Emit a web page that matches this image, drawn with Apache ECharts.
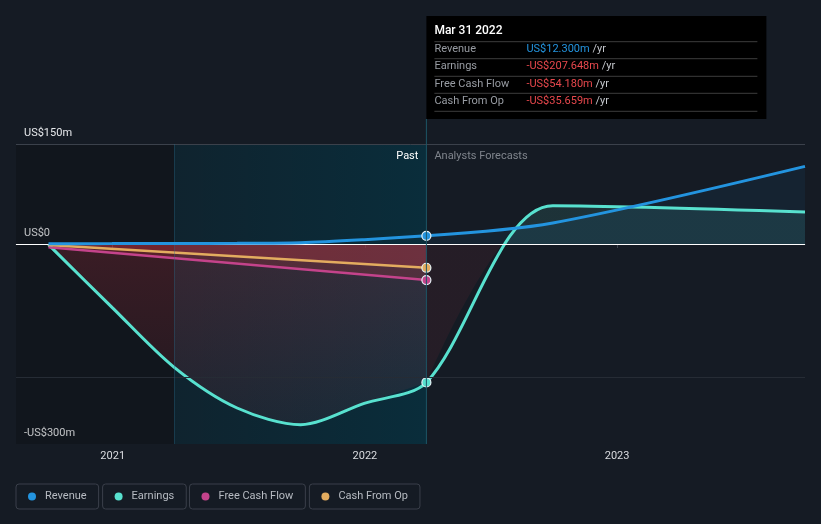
<!DOCTYPE html>
<html><head><meta charset="utf-8">
<script src="https://cdn.jsdelivr.net/npm/echarts@6/dist/echarts.min.js"></script>
<style>html,body{margin:0;padding:0;background:#151b24;} #c{width:821px;height:524px;}</style>
</head><body><div id="c"></div>
<script>
// ---- data (US$ millions) ----
const pastDates = ['2020-09-30','2020-12-31','2021-03-31','2021-06-30','2021-09-30','2021-12-31','2022-03-31'];
const revenuePast = [0.5, 0.6, 0.8, 1.0, 2.0, 6.5, 12.3];
const earningsPast = [-1, -95, -185, -246, -271, -239, -207.648];
const cashDates = ['2020-09-30','2022-03-31'];
const fcfPast = [-5, -54.18];
const cfoPast = [-1.5, -35.659];
const forecastDates = ['2022-09-30','2023-09-30'];
const revenueForecast = [31.5, 116.4];
const earningsForecast = [57.5, 48];
const yearTicks = ['2021-01-01','2022-01-01','2023-01-01'];
const yTickValues = [150, 0, -300];
const gridValues = [150, -200];
const axisStart = '2020-08-14', axisEnd = '2023-09-30';
const bandStart = '2021-03-31', today = '2022-03-31';
const tooltipTitle = 'Mar 31 2022';
const seriesNames = ['Revenue','Earnings','Free Cash Flow','Cash From Op'];

const C = {rev:'#2394df', earn:'#58e1cf', fcf:'#c4438b', cfo:'#e3ac5f'};
const FONT = 'Roboto';
const T = d => Date.parse(d);
const pair = (d, v) => d.map((x, i) => [T(x), v[i]]);
const last = a => a[a.length - 1];
const fmtM = v => (v < 0 ? '-' : '') + 'US$' + Math.abs(v).toFixed(3) + 'm';
const fmtAxis = v => (v < 0 ? '-' : '') + 'US$' + Math.abs(v) + (v === 0 ? '' : 'm');
const RED = a => 'rgba(230,55,70,' + a + ')';

// series data built from the arrays
const earnPastData = pair(pastDates, earningsPast);
const earnFcData = pair([today].concat(forecastDates), [last(earningsPast)].concat(earningsForecast));
const earnAllData = earnPastData.concat(pair(forecastDates, earningsForecast));
const revPastData = pair(pastDates, revenuePast);
const revFcData = pair([today].concat(forecastDates), [last(revenuePast)].concat(revenueForecast));
const markIdx = pastDates.length - 1;

const fcVals = [last(earningsPast)].concat(earningsForecast);
const eMax = Math.max(...fcVals), eMin = Math.min(...fcVals);
const zeroOff = eMax / (eMax - eMin);

const symAt = i => (val, p) => p.dataIndex === i ? 'circle' : 'none';

const chart = echarts.init(document.getElementById('c'), null, {renderer:'canvas'});
const baseLine = (name, color, data, extra) => Object.assign({
  name, type:'line', data, z:4, smooth:0.3,
  symbol: symAt(data.length - 1), symbolSize: 9, showSymbol:true,
  lineStyle:{color, width:3}, itemStyle:{color, borderColor:'#e8f4f8', borderWidth:1.2},
  emphasis:{disabled:true}, silent:true
}, extra);
const areaOnly = (name, color, data, areaColor, z) => ({
  name, type:'line', data, z, smooth:0.3, symbol:'none', silent:true,
  lineStyle:{width:0, color}, itemStyle:{color}, emphasis:{disabled:true},
  areaStyle:{origin:0, color:areaColor}
});

const legendBox = (name, left) => ({
  data:[name], left, top:484, orient:'horizontal', icon:'circle',
  itemWidth:8, itemHeight:8, itemGap:0, padding:[7,12,7,12],
  borderColor:'#3a3f4a', borderWidth:1, borderRadius:3, selectedMode:false,
  itemStyle:{borderWidth:0},
  textStyle:{color:'#b7bbc2', fontSize:11, fontFamily:FONT, padding:[0,0,0,4]}
});

chart.setOption({
  backgroundColor:'#151b24',
  animation:false,
  textStyle:{fontFamily:FONT},
  grid:{left:16, right:16, top:144, bottom:80},
  xAxis:{type:'value', min:T(axisStart), max:T(axisEnd),
    axisLine:{lineStyle:{color:'#3d434e', width:1}},
    axisTick:{show:true, customValues:yearTicks.map(T), length:4, lineStyle:{color:'#3d434e'}},
    axisLabel:{customValues:yearTicks.map(T), formatter:v => String(new Date(v).getUTCFullYear()),
      color:'#d9dbdf', fontSize:11, margin:7},
    splitLine:{show:false}},
  yAxis:{type:'value', min:-300, max:150,
    axisLine:{show:false}, axisTick:{show:false}, splitLine:{show:false},
    axisLabel:{customValues:yTickValues, inside:true, formatter:fmtAxis, color:'#e6e8eb',
      fontSize:11, margin:8, verticalAlign:'bottom', padding:[0,0,5,0]}},
  legend:[legendBox(seriesNames[0],16), legendBox(seriesNames[1],102.6),
          legendBox(seriesNames[2],189.5), legendBox(seriesNames[3],309.4)],
  series:[
    {type:'line', name:'bg', data:[], z:1, silent:true,
      markArea:{silent:true, data:[
        [{xAxis:T(axisStart), itemStyle:{color:'rgba(0,0,0,0.17)'}},{xAxis:T(bandStart)}],
        [{xAxis:T(bandStart), itemStyle:{color:{type:'linear',x:0,y:0,x2:1,y2:0,colorStops:[
          {offset:0,color:'rgba(0,57,74,0.28)'},{offset:1,color:'rgba(0,60,78,0.55)'}]}}},{xAxis:T(today)}]
      ]},
      markLine:{silent:true, symbol:'none', label:{show:false}, data:[
        {yAxis:gridValues[0], lineStyle:{color:'#3b414b', width:1, type:'solid'}},
        {yAxis:gridValues[1], lineStyle:{color:'#262c35', width:1, type:'solid'}},
        {xAxis:T(bandStart), lineStyle:{color:'rgba(40,110,140,0.35)', width:1, type:'solid'}},
        {yAxis:0, lineStyle:{color:'#ffffff', width:1.2, type:'solid'}}
      ]}},
    // filled areas
    areaOnly(seriesNames[1], C.earn, earnPastData, {type:'linear',x:0,y:0,x2:0,y2:1,colorStops:[
        {offset:0,color:RED(0.28)},{offset:1,color:RED(0.1)}]}, 2),
    areaOnly(seriesNames[1], C.earn, earnFcData, {type:'linear',x:0,y:0,x2:0,y2:1,colorStops:[
        {offset:0,color:'rgba(92,225,207,0.17)'},{offset:zeroOff,color:'rgba(92,225,207,0.17)'},
        {offset:zeroOff,color:RED(0.11)},{offset:1,color:RED(0.11)}]}, 2),
    areaOnly(seriesNames[0], C.rev, revFcData, 'rgba(35,148,223,0.1)', 2),
    areaOnly(seriesNames[2], C.fcf, pair(cashDates, fcfPast), RED(0.25), 2),
    areaOnly(seriesNames[3], C.cfo, pair(cashDates, cfoPast), RED(0.25), 2),
    // lines
    baseLine(seriesNames[1], C.earn, earnAllData, {symbol:symAt(markIdx)}),
    baseLine(seriesNames[0], C.rev, revFcData, {symbol:'none'}),
    baseLine(seriesNames[2], C.fcf, pair(cashDates, fcfPast), {smooth:false, lineStyle:{color:C.fcf, width:2.5}}),
    baseLine(seriesNames[3], C.cfo, pair(cashDates, cfoPast), {smooth:false, lineStyle:{color:C.cfo, width:2.5}}),
    baseLine(seriesNames[0], C.rev, revPastData, {z:5})
  ]
});

// overlay: today line, Past / Forecast labels, tooltip box
const tx = chart.convertToPixel({xAxisIndex:0}, T(today));
const yTop = chart.convertToPixel({yAxisIndex:0}, 150);
const yBot = chart.convertToPixel({yAxisIndex:0}, -300);
const rows = [
  [seriesNames[0], last(revenuePast)],
  [seriesNames[1], last(earningsPast)],
  [seriesNames[2], last(fcfPast)],
  [seriesNames[3], last(cfoPast)]
];
const g = [
  {type:'line', silent:true, z:10, shape:{x1:tx, y1:119, x2:tx, y2:yBot}, style:{stroke:'#1d5667', lineWidth:1}},
  {type:'text', silent:true, z:10, x:tx-8, y:yTop+12, style:{text:'Past', fill:'#ffffff', font:'11px '+FONT, align:'right', verticalAlign:'middle'}},
  {type:'text', silent:true, z:10, x:tx+8, y:yTop+12, style:{text:'Analysts Forecasts', fill:'#7f848c', font:'11px '+FONT, align:'left', verticalAlign:'middle'}},
  {type:'rect', silent:true, z:20, shape:{x:tx, y:16, width:340, height:103}, style:{fill:'#000000'}},
  {type:'text', silent:true, z:21, x:tx+8, y:31, style:{text:tooltipTitle, fill:'#ffffff', font:'500 12px '+FONT, verticalAlign:'middle'}}
];
[41.7, 58.7, 76.3, 93.3, 111.3].forEach(y => g.push({type:'line', silent:true, z:21,
  shape:{x1:tx+8, y1:y, x2:tx+331, y2:y}, style:{stroke:'#3d3d3d', lineWidth:1}}));
rows.forEach((r, i) => {
  const y = 49.3 + i * 17.4;
  g.push({type:'text', silent:true, z:21, x:tx+8, y, style:{text:r[0], fill:'#989ca3', font:'11px '+FONT, verticalAlign:'middle'}});
  g.push({type:'text', silent:true, z:21, x:tx+100, y, style:{
    text:'{v|' + fmtM(r[1]) + '} {u|/yr}', verticalAlign:'middle', font:'11px '+FONT,
    rich:{v:{fill:r[1] < 0 ? '#e8484d' : '#2394df', font:'11px '+FONT}, u:{fill:'#c4c7cc', font:'11px '+FONT}}}});
});
chart.setOption({graphic:g});
</script></body></html>
